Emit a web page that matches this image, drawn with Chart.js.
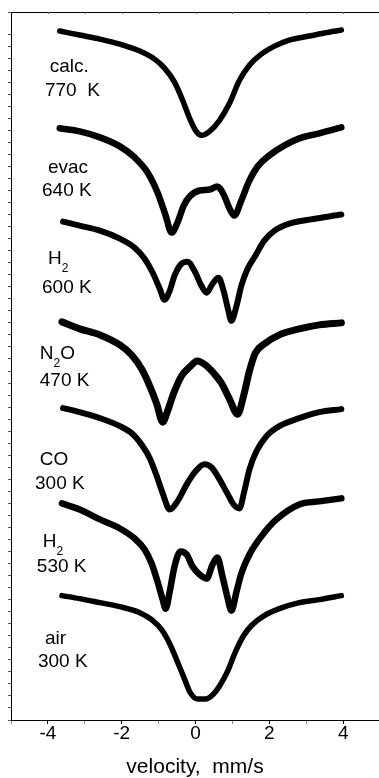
<!DOCTYPE html>
<html>
<head>
<meta charset="utf-8">
<script src="https://cdn.jsdelivr.net/npm/chart.js@4/dist/chart.umd.min.js"></script>
<style>
  html, body { margin: 0; padding: 0; background: #fff; }
  canvas { display: block; }
</style>
</head>
<body>
<canvas id="c" width="379" height="778"></canvas>
<script>
// Mössbauer spectra, stacked (velocity in mm/s, intensity in arbitrary stacked units)
const calcV = [-3.68,-3.14,-2.59,-2.05,-1.51,-1.11,-0.84,-0.57,-0.35,-0.16,0,0.16,0.38,0.65,0.92,1.19,1.46,1.78,2.14,2.54,3.08,3.49,3.95];
const calcY = [687,683,679,674,667,659,650,636,618,600,588,583,587,598,615,638,653,664,672,678,682,685,688];

const evacV = [-3.68,-3.14,-2.59,-2.05,-1.65,-1.30,-1.03,-0.81,-0.65,-0.49,-0.32,-0.16,0.11,0.38,0.59,0.76,0.92,1.05,1.24,1.46,1.68,2.00,2.41,2.81,3.35,3.95];
const evacY = [590,587,581,572,561,546,526,503,486,496,513,522,528,529,532,524,510,503,518,538,552,563,573,580,585,591];

const h2hotV = [-3.59,-3.14,-2.59,-2.05,-1.65,-1.38,-1.16,-0.97,-0.84,-0.70,-0.57,-0.38,-0.22,-0.03,0.16,0.30,0.46,0.62,0.76,0.89,0.97,1.11,1.24,1.41,1.62,1.86,2.14,2.54,3.08,3.95];
const h2hotY = [497,493,488,480,471,460,446,430,419,428,443,455,457,448,433,426,435,441,428,408,398,413,433,450,463,478,488,495,499,504];

const n2oV = [-3.62,-3.14,-2.59,-2.05,-1.73,-1.46,-1.24,-1.05,-0.89,-0.76,-0.59,-0.38,-0.16,0.05,0.27,0.49,0.70,0.92,1.14,1.30,1.46,1.62,1.86,2.27,2.81,3.35,3.95];
const n2oY = [397,390,384,374,364,350,333,315,297,308,326,343,352,358,354,346,336,320,305,323,348,366,375,384,390,394,396];

const coV = [-3.59,-3.14,-2.59,-2.05,-1.70,-1.43,-1.24,-1.05,-0.89,-0.70,-0.49,-0.24,0,0.24,0.43,0.65,0.86,1.05,1.19,1.32,1.46,1.65,1.92,2.27,2.81,3.35,3.95];
const coY = [311,307,301,293,285,273,261,243,226,210,218,235,248,255,252,240,226,214,211,228,250,268,283,293,301,307,310];

const h2V = [-3.62,-3.14,-2.59,-2.05,-1.65,-1.38,-1.19,-1.03,-0.89,-0.81,-0.70,-0.57,-0.41,-0.24,-0.08,0.11,0.30,0.46,0.59,0.73,0.86,0.97,1.11,1.24,1.46,1.78,2.19,2.81,3.35,3.95];
const h2Y = [216,210,200,191,181,170,156,138,120,111,128,153,168,165,153,145,141,155,162,143,123,109,128,146,165,183,200,215,218,221];

const airV = [-3.62,-3.14,-2.59,-2.05,-1.51,-1.19,-0.92,-0.70,-0.49,-0.30,-0.14,0.05,0.27,0.46,0.65,0.86,1.08,1.30,1.51,1.86,2.27,2.81,3.35,3.95];
const airY = [124,121,117,113,107,100,90,76,58,41,27,21,21,25,34,48,68,84,94,104,111,117,120,124];

const xTicks = [-4, -2, 0, 2, 4];

// Sample annotations: each line is a list of [text, isSubscript] runs, anchored in data space
const sampleLabels = [
  { x: -3.95, y: 646, runs: [['calc.', false]] },
  { x: -4.08, y: 622, runs: [['770  K', false]] },
  { x: -4.00, y: 545, runs: [['evac', false]] },
  { x: -4.16, y: 523, runs: [['640 K', false]] },
  { x: -4.00, y: 455, runs: [['H', false], ['2', true]] },
  { x: -4.16, y: 426, runs: [['600 K', false]] },
  { x: -4.22, y: 360, runs: [['N', false], ['2', true], ['O', false]] },
  { x: -4.22, y: 333, runs: [['470 K', false]] },
  { x: -4.22, y: 254, runs: [['CO', false]] },
  { x: -4.35, y: 230, runs: [['300 K', false]] },
  { x: -4.14, y: 173, runs: [['H', false], ['2', true]] },
  { x: -4.30, y: 148, runs: [['530 K', false]] },
  { x: -4.08, y: 76,  runs: [['air', false]] },
  { x: -4.27, y: 53,  runs: [['300 K', false]] }
];

const FONT = '"Liberation Sans", Arial, Helvetica, sans-serif';

function series(vs, ys, width) {
  return {
    data: vs.map((v, i) => ({ x: v, y: ys[i] })),
    showLine: true,
    borderColor: '#000',
    backgroundColor: '#000',
    borderWidth: width,
    pointRadius: 0,
    pointHoverRadius: 0,
    borderCapStyle: 'round',
    borderJoinStyle: 'round',
    cubicInterpolationMode: 'monotone'
  };
}

const labelPlugin = {
  id: 'sampleLabels',
  afterDatasetsDraw(chart) {
    const { ctx, scales } = chart;
    ctx.save();
    ctx.fillStyle = '#000';
    ctx.textBaseline = 'alphabetic';
    ctx.textAlign = 'left';
    sampleLabels.forEach(l => {
      let px = scales.x.getPixelForValue(l.x);
      const py = scales.y.getPixelForValue(l.y);
      l.runs.forEach(([t, sub]) => {
        ctx.font = (sub ? '12px ' : '19px ') + FONT;
        ctx.fillText(t, px, sub ? py + 8 : py);
        px += ctx.measureText(t).width;
      });
    });
    ctx.restore();
  }
};

// Top frame line with small inward ticks at whole velocities
const frameTop = {
  id: 'frameTop',
  afterDraw(chart) {
    const { ctx, chartArea, scales } = chart;
    ctx.save();
    ctx.strokeStyle = '#000';
    ctx.lineWidth = 1;
    ctx.beginPath();
    ctx.moveTo(chartArea.left, chartArea.top + 0.5);
    ctx.lineTo(chart.width, chartArea.top + 0.5);
    ctx.stroke();
    ctx.strokeStyle = '#666';
    for (let v = -4; v <= 4; v++) {
      const x = Math.round(scales.x.getPixelForValue(v)) + 0.5;
      ctx.beginPath();
      ctx.moveTo(x, chartArea.top);
      ctx.lineTo(x, chartArea.top + 2);
      ctx.stroke();
    }
    ctx.restore();
  }
};

new Chart(document.getElementById('c'), {
  type: 'scatter',
  data: {
    datasets: [
      series(calcV, calcY, 5.5),
      series(evacV, evacY, 6.5),
      series(h2hotV, h2hotY, 6),
      series(n2oV, n2oY, 7),
      series(coV, coY, 6),
      series(h2V, h2Y, 6.5),
      series(airV, airY, 5.5)
    ]
  },
  options: {
    responsive: false,
    animation: false,
    events: [],
    layout: { padding: { left: 8, top: 12, right: 0, bottom: -2 } },
    plugins: { legend: { display: false }, tooltip: { enabled: false } },
    scales: {
      x: {
        type: 'linear',
        min: -5,
        max: 4.97,
        border: { display: true, color: '#000', width: 1 },
        grid: {
          drawOnChartArea: false,
          drawTicks: true,
          tickLength: 4,
          tickColor: c => (xTicks.includes(c.tick && c.tick.value) ? '#000' : '#888')
        },
        afterBuildTicks: s => { s.ticks = []; for (let v = -5; v <= 4; v++) s.ticks.push({ value: v }); },
        afterFit: s => { s.paddingLeft = 0; s.paddingRight = 0; },
        ticks: {
          autoSkip: false,
          maxRotation: 0,
          padding: -2,
          color: '#000',
          font: { family: FONT, size: 19 },
          callback: v => (xTicks.includes(v) ? String(v) : '')
        },
        title: {
          display: true,
          text: 'velocity,  mm/s',
          color: '#000',
          font: { family: FONT, size: 21 },
          padding: { top: 12, bottom: 0 }
        }
      },
      y: {
        type: 'linear',
        min: 0,
        max: 706,
        border: { display: true, color: '#000', width: 1 },
        grid: { drawOnChartArea: false, drawTicks: true, tickLength: 3, tickColor: '#555' },
        ticks: { display: false, stepSize: 12, maxTicksLimit: 100, autoSkip: false }
      }
    }
  },
  plugins: [labelPlugin, frameTop]
});
</script>
</body>
</html>
